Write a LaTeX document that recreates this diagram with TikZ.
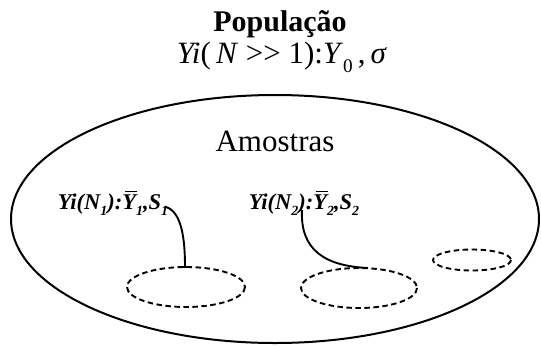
\documentclass[tikz,border=0pt]{standalone}
\usepackage{fontspec}
\usepackage{graphicx}
\setmainfont{Liberation Serif}
\newcommand{\lo}[1]{\raisebox{-0.28em}{\scalebox{0.62}{#1}}}
\newcommand{\ybar}{\makebox[0pt][l]{\hspace{0.14em}\rule[0.76em]{0.52em}{0.055em}}\textit{Y}}
\begin{document}
\begin{tikzpicture}[x=1pt,y=-1pt,
  lbl/.style={inner sep=0pt,font=\fontsize{22.5}{25}\selectfont\itshape\bfseries},
  sample/.style={draw,line width=1.9pt,dash pattern=on 5.5pt off 3.5pt},
  conn/.style={line width=1.9pt}]
\useasboundingbox (0,0) rectangle (541,346);
\node[inner sep=0pt,font=\fontsize{30}{32}\selectfont\bfseries] (pop) at (280,24) {População};
\node[inner sep=0pt,font=\fontsize{31}{34}\selectfont] (popf) at (282,57) {\textit{Yi}(\,\textit{N} >{}> 1):\textit{Y}\lo{0}\,,\,\textit{σ}};
\draw[line width=2pt] (275,219) ellipse [x radius=264, y radius=124];
\node[inner sep=0pt,font=\fontsize{31}{34}\selectfont] (am) at (275,141) {Amostras};
\node[lbl] (l1) at (113,203) {Yi(N\lo{1}):\ybar\lo{1},S\lo{1}};
\node[lbl] (l2) at (304,203) {Yi(N\lo{2}):\ybar\lo{2},S\lo{2}};
\draw[sample] (186,287) ellipse [x radius=59, y radius=20];
\draw[sample] (359,288) ellipse [x radius=58, y radius=20];
\draw[sample] (472,260) ellipse [x radius=39, y radius=10.5];
\coordinate (e1) at (185,267);
\coordinate (e2) at (368,268);
\coordinate (s1) at (166,207);
\coordinate (s2) at (302,210);
\draw[conn] (s1) .. controls (182,212) and (185,240) .. (e1);
\draw[conn] (e1) ++(-6,0) -- ++(12,0);
\draw[conn] (s2) .. controls (300,250) and (325,266) .. (e2);
\end{tikzpicture}
\end{document}
